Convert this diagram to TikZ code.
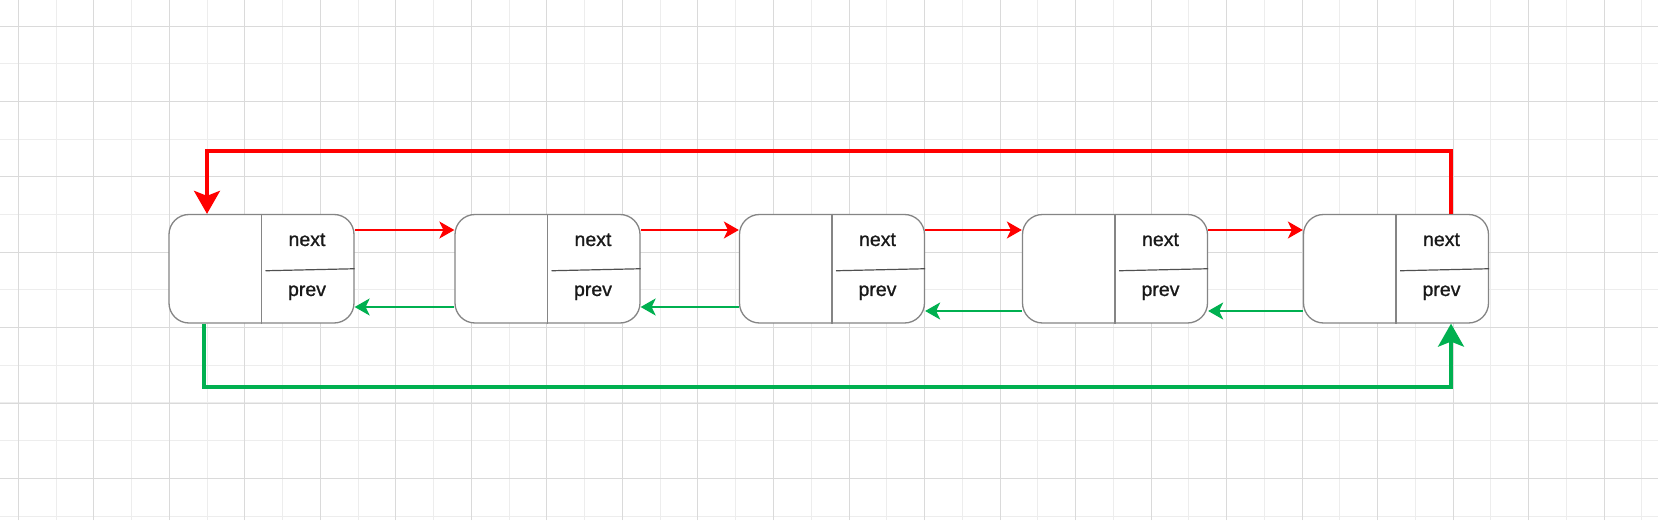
\documentclass[tikz,border=0pt]{standalone}
\usepackage{fontspec}
\setmainfont{Liberation Sans}
\newfontfamily\fieldfont[FakeBold=1]{Liberation Sans}
\usetikzlibrary{arrows.meta}
\definecolor{nextred}{HTML}{FF0000}
\definecolor{prevgreen}{HTML}{00B050}
\definecolor{boxgray}{HTML}{858585}
\definecolor{splitgray}{HTML}{505050}
\definecolor{gridmajor}{HTML}{DADADA}
\definecolor{gridminor}{HTML}{EDEDED}
\tikzset{
  listnode/.style={draw=boxgray, line width=1.3pt, rounded corners=20pt,
    minimum width=185pt, minimum height=108.5pt, fill=white, inner sep=0pt},
  field/.style={font=\fieldfont\fontsize{19.5}{22}\selectfont, text=black!90,
    anchor=base, inner sep=0pt},
  midline/.style={boxgray, line width=1.5pt},
  splitline/.style={splitgray, line width=1.2pt},
  nextlink/.style={nextred, line width=2pt,
    -{Stealth[length=15pt,width=17pt,inset=4pt]}},
  prevlink/.style={prevgreen, line width=2pt,
    -{Stealth[length=15pt,width=17pt,inset=4pt]}},
  nextloop/.style={nextred, line width=3.2pt,
    -{Stealth[length=23pt,width=26pt,inset=5pt]}},
  prevloop/.style={prevgreen, line width=3.2pt,
    -{Stealth[length=23pt,width=26pt,inset=5pt]}}
}
\begin{document}
\begin{tikzpicture}[x=1pt,y=1pt]
\useasboundingbox (0,0) rectangle (1658,520);
\fill[white] (0,0) rectangle (1658,520);
% background grid
\begin{scope}[shift={(18.3,4.0)}]
\draw[gridminor, line width=1pt, xstep=37.76pt, ystep=37.67pt] (-18.3,-4.0) grid (1640,516);
\end{scope}
\begin{scope}[shift={(18.3,41.66)}]
\draw[gridmajor, line width=1pt, xstep=75.52pt, ystep=75.34pt] (-18.3,-41.66) grid (1640,478.34);
\end{scope}
% list nodes
\node[listnode] (n1) at (261.5,251.25) {};
\node[listnode] (n2) at (547.5,251.25) {};
\node[listnode] (n3) at (832,251.25) {};
\node[listnode] (n4) at (1115,251.25) {};
\node[listnode] (n5) at (1396,251.25) {};
\draw[midline] (n1.north) -- (n1.south);
\draw[midline] (n2.north) -- (n2.south);
\draw[midline] (n3.north) -- (n3.south);
\draw[midline] (n4.north) -- (n4.south);
\draw[midline] (n5.north) -- (n5.south);
\draw[splitline] ([xshift=4pt,yshift=-2pt]n1.center) -- (n1.east);
\draw[splitline] ([xshift=4pt,yshift=-2pt]n2.center) -- (n2.east);
\draw[splitline] ([xshift=4pt,yshift=-2pt]n3.center) -- (n3.east);
\draw[splitline] ([xshift=4pt,yshift=-2pt]n4.center) -- (n4.east);
\draw[splitline] ([xshift=4pt,yshift=-2pt]n5.center) -- (n5.east);
% field labels
\node[field] (n1next) at ([xshift=45.5pt,yshift=22.75pt]n1.center) {next};
\node[field] (n1prev) at ([xshift=45.5pt,yshift=-27.25pt]n1.center) {prev};
\node[field] (n2next) at ([xshift=45.5pt,yshift=22.75pt]n2.center) {next};
\node[field] (n2prev) at ([xshift=45.5pt,yshift=-27.25pt]n2.center) {prev};
\node[field] (n3next) at ([xshift=45.5pt,yshift=22.75pt]n3.center) {next};
\node[field] (n3prev) at ([xshift=45.5pt,yshift=-27.25pt]n3.center) {prev};
\node[field] (n4next) at ([xshift=45.5pt,yshift=22.75pt]n4.center) {next};
\node[field] (n4prev) at ([xshift=45.5pt,yshift=-27.25pt]n4.center) {prev};
\node[field] (n5next) at ([xshift=45.5pt,yshift=22.75pt]n5.center) {next};
\node[field] (n5prev) at ([xshift=45.5pt,yshift=-27.25pt]n5.center) {prev};
% next links
\draw[nextlink] ([yshift=38.75pt]n1.east) -- ([yshift=38.75pt]n2.west);
\draw[nextlink] ([yshift=38.75pt]n2.east) -- ([yshift=38.75pt]n3.west);
\draw[nextlink] ([yshift=38.75pt]n3.east) -- ([yshift=38.75pt]n4.west);
\draw[nextlink] ([yshift=38.75pt]n4.east) -- ([yshift=38.75pt]n5.west);
% prev links
\draw[prevlink] ([yshift=-38.25pt]n2.west) -- ([yshift=-38.25pt]n1.east);
\draw[prevlink] ([yshift=-38.25pt]n3.west) -- ([yshift=-38.25pt]n2.east);
\draw[prevlink] ([yshift=-42.25pt]n4.west) -- ([yshift=-42.25pt]n3.east);
\draw[prevlink] ([yshift=-42.25pt]n5.west) -- ([yshift=-42.25pt]n4.east);
% wrap-around links
\coordinate (toprail) at (0,369);
\coordinate (botrail) at (0,133);
\draw[nextloop] ([xshift=55pt]n5.north) -- ([xshift=55pt]n5.north |- toprail) -| ([xshift=-54.5pt]n1.north);
\draw[prevloop] ([xshift=-57.5pt]n1.south) -- ([xshift=-57.5pt]n1.south |- botrail) -| ([xshift=55pt]n5.south);
\end{tikzpicture}
\end{document}
